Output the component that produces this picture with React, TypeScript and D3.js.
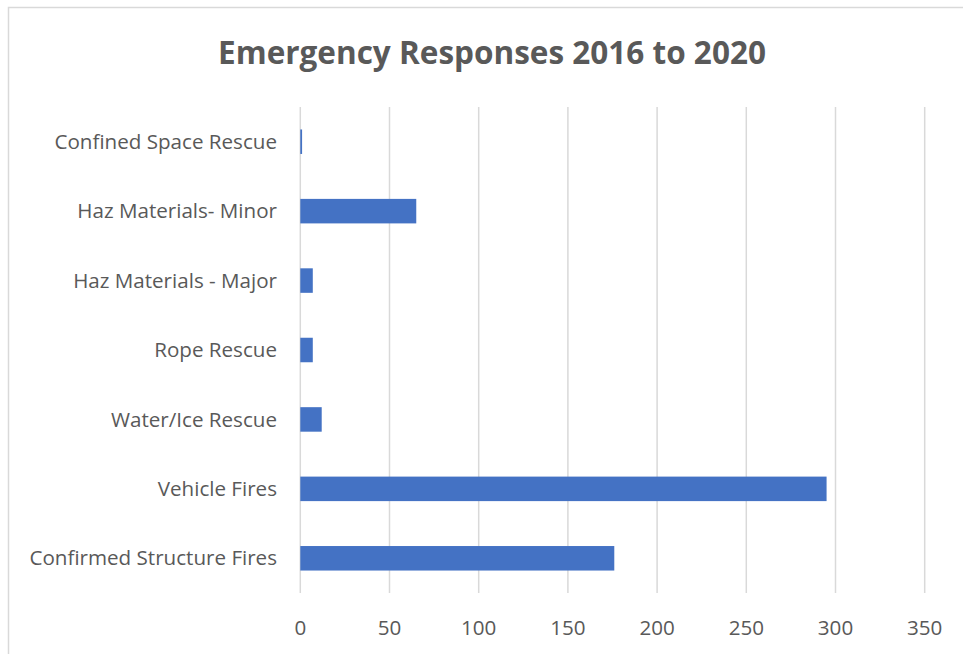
import React from "react";
import * as d3 from "d3";

const categories = [
  "Confined Space Rescue",
  "Haz Materials- Minor",
  "Haz Materials - Major",
  "Rope Rescue",
  "Water/Ice Rescue",
  "Vehicle Fires",
  "Confirmed Structure Fires",
];
const values = [1, 65, 7, 7, 12, 295, 176];
const xTicks = [0, 50, 100, 150, 200, 250, 300, 350];
const title = "Emergency Responses 2016 to 2020";

const W = 963;
const H = 654;
const plot = { left: 300.3, right: 924.7, top: 107, bottom: 593 };
const FONT = "'Open Sans', Lato, sans-serif";

export default function App() {
  const x = d3.scaleLinear().domain([0, 350]).range([plot.left, plot.right]);
  const y = d3
    .scaleBand<string>()
    .domain(categories)
    .range([plot.top, plot.bottom])
    .paddingInner(0.647)
    .paddingOuter(0.3235);

  return (
    <svg
      width={W}
      height={H}
      style={{ position: "absolute", left: 0, top: 0, background: "#fff" }}
    >
      <rect x={0} y={0} width={W} height={H} fill="#fff" />
      <rect
        x={8.5}
        y={7.5}
        width={1000}
        height={700}
        fill="none"
        stroke="#d9d9d9"
        strokeWidth={1.5}
      />
      <text
        x={(217 + 767) / 2}
        y={64}
        textAnchor="middle"
        fontFamily={FONT}
        fontWeight={700}
        fontSize={31.5}
        fill="#595959"
      >
        {title}
      </text>
      {xTicks.map((t) => (
        <line
          key={t}
          x1={x(t)}
          x2={x(t)}
          y1={plot.top}
          y2={plot.bottom}
          stroke="#d9d9d9"
          strokeWidth={1.5}
        />
      ))}
      {categories.map((c, i) => (
        <rect
          key={c}
          x={x(0)}
          y={y(c)!}
          width={x(values[i]) - x(0)}
          height={y.bandwidth()}
          fill="#4472C4"
        />
      ))}
      {categories.map((c) => (
        <text
          key={c}
          x={277}
          y={y(c)! + y.bandwidth() / 2}
          dy="0.35em"
          textAnchor="end"
          fontFamily={FONT}
          fontSize={20.6}
          fill="#595959"
        >
          {c}
        </text>
      ))}
      {xTicks.map((t) => (
        <text
          key={t}
          x={x(t)}
          y={635}
          textAnchor="middle"
          fontFamily={FONT}
          fontSize={20.6}
          fill="#595959"
        >
          {t}
        </text>
      ))}
    </svg>
  );
}
